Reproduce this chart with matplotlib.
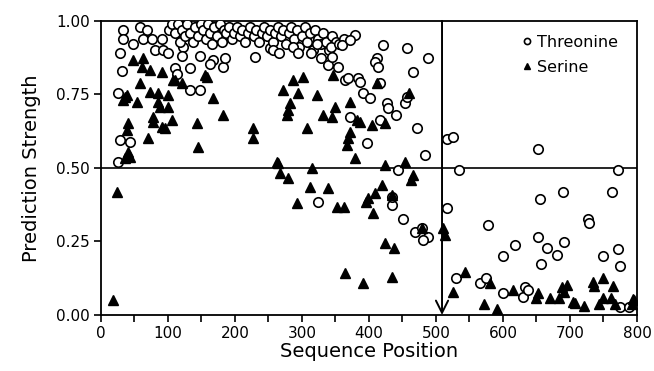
import matplotlib
matplotlib.use('Agg')
from matplotlib import pyplot as plt
from matplotlib.ticker import MultipleLocator

plt.rcParams['font.family'] = ['DejaVu Sans']

# Threonine (open circles)
thr_x = [33, 33, 29, 32, 26, 29, 43, 26, 58, 48, 69, 63, 76, 80, 91, 92, 100, 110, 114, 123,
         121, 133, 133, 148, 148, 167, 163, 182, 185, 230, 252,
         # dense top band
         102, 106, 110, 115, 118, 121, 125, 129, 133, 137, 141, 145, 149, 153, 156, 159, 163,
         166, 169, 173, 177, 180, 183, 187, 191, 195, 199, 203, 207, 211, 215, 219, 223, 228,
         232, 236, 240, 244, 248, 252, 256, 260, 264, 268, 272, 276, 280, 284, 288, 292, 296,
         300, 304, 308, 312, 316, 320, 324, 328, 332, 336, 341, 345, 351,
         257, 266, 286, 294, 314, 322, 343, 355, 363,
         # descending part and right side
         329, 339, 345, 354, 360, 379, 372, 364, 369, 384, 387, 391, 401, 412, 409, 413, 421,
         416, 427, 428, 441, 454, 457, 465, 457, 488, 472, 484, 372, 416, 397, 443, 324, 435,
         435, 451, 469, 479, 488, 481, 516, 516, 525, 534, 652, 771, 655, 690, 762, 727, 728,
         578, 652, 665, 681, 691, 618, 600, 656, 749, 771, 774, 530, 565, 575, 600, 630, 633,
         637, 774, 788]
thr_y = [0.97, 0.94, 0.89, 0.83, 0.755, 0.595, 0.588, 0.52, 0.98, 0.92, 0.97, 0.94, 0.94, 0.90,
         0.94, 0.90, 0.89, 0.84, 0.82, 0.91, 0.88, 0.84, 0.765, 0.765, 0.88, 0.867, 0.855,
         0.845, 0.875, 0.878, 0.908,
         0.97, 0.99, 0.96, 0.99, 0.93, 0.97, 0.95, 0.99, 0.96, 0.93, 0.98, 0.95, 0.99, 0.97,
         0.94, 0.99, 0.96, 0.92, 0.98, 0.95, 0.99, 0.93, 0.97, 0.96, 0.98, 0.94, 0.96, 0.98,
         0.95, 0.97, 0.93, 0.96, 0.98, 0.95, 0.97, 0.93, 0.96, 0.98, 0.95, 0.97, 0.93, 0.96,
         0.98, 0.95, 0.97, 0.92, 0.96, 0.98, 0.94, 0.97, 0.91, 0.95, 0.98, 0.93, 0.96, 0.90,
         0.97, 0.94, 0.92, 0.96, 0.93, 0.90, 0.95, 0.93,
         0.90, 0.89, 0.91, 0.89, 0.89, 0.92, 0.91, 0.92, 0.94,
         0.874, 0.85, 0.878, 0.844, 0.918, 0.952, 0.935, 0.80, 0.806, 0.806, 0.793, 0.755,
         0.738, 0.874, 0.861, 0.844, 0.918, 0.789, 0.721, 0.704, 0.68, 0.721, 0.741, 0.827,
         0.908, 0.874, 0.636, 0.544, 0.673, 0.663, 0.585, 0.493, 0.384, 0.374, 0.40, 0.327,
         0.282, 0.296, 0.265, 0.255, 0.364, 0.60, 0.605, 0.493, 0.565, 0.493, 0.395, 0.418,
         0.418, 0.327, 0.313, 0.306, 0.265, 0.228, 0.204, 0.248, 0.238, 0.201, 0.173, 0.201,
         0.224, 0.167, 0.126, 0.109, 0.126, 0.075, 0.061, 0.095, 0.085, 0.027, 0.027]

# Serine (filled triangles)
ser_x = [48, 63, 61, 73, 91, 58, 73, 85, 85, 88, 100, 100, 107, 121, 36, 33, 54, 77, 77, 91,
         95, 106, 40, 39, 70, 40, 43, 36, 39, 158, 167, 182, 143, 145, 227, 227, 263, 24, 18,
         155, 110,
         287, 301, 272, 294, 322, 282, 279, 278, 347, 350, 331, 345, 307, 372, 412, 382, 387,
         372, 369, 367, 404, 424, 459, 315, 379, 424, 454,
         264, 267, 279, 312, 339, 292, 352, 362, 419, 409, 398, 396, 435, 406, 466, 462, 479,
         424, 438, 364, 391, 434, 510, 513,
         543, 525, 572, 591, 580, 615, 652, 650, 670, 683, 688, 696, 691, 705, 721, 734, 736,
         749, 764, 749, 743, 761, 767, 794, 793, 708, 795]
ser_y = [0.867, 0.874, 0.844, 0.833, 0.827, 0.789, 0.759, 0.755, 0.724, 0.707, 0.748, 0.707,
         0.799, 0.789, 0.741, 0.731, 0.724, 0.673, 0.656, 0.639, 0.636, 0.663, 0.653, 0.629,
         0.602, 0.554, 0.537, 0.534, 0.748, 0.81, 0.738, 0.68, 0.653, 0.571, 0.636, 0.602,
         0.52, 0.418, 0.051, 0.816, 0.80,
         0.799, 0.81, 0.765, 0.755, 0.748, 0.721, 0.697, 0.68, 0.816, 0.707, 0.68, 0.673,
         0.636, 0.724, 0.789, 0.663, 0.656, 0.622, 0.602, 0.578, 0.646, 0.653, 0.755, 0.5,
         0.534, 0.51, 0.52,
         0.517, 0.483, 0.466, 0.435, 0.432, 0.381, 0.367, 0.367, 0.442, 0.415, 0.398, 0.384,
         0.408, 0.347, 0.476, 0.459, 0.296, 0.245, 0.228, 0.143, 0.109, 0.129, 0.296, 0.272,
         0.146, 0.078, 0.037, 0.02, 0.109, 0.085, 0.075, 0.058, 0.058, 0.058, 0.095, 0.102,
         0.078, 0.044, 0.031, 0.112, 0.099, 0.126, 0.099, 0.058, 0.037, 0.058, 0.037, 0.054,
         0.037, 0.041, 0.05]

x_ticks = [0, 100, 200, 300, 400, 500, 600, 700, 800]
y_ticks = [0.00, 0.25, 0.50, 0.75, 1.00]
cut_pos = 509
cut_strength = 0.5

fig = plt.figure(figsize=(6.54, 3.71), dpi=100)
ax = fig.add_axes([0.1544, 0.151, 0.8196, 0.7925])

ax.plot(thr_x, thr_y, 'o', mfc='white', mec='black', mew=1.2, ms=6.8,
        label='Threonine', zorder=3)
ax.plot(ser_x, ser_y, '^', color='black', ms=7.2, label='Serine', zorder=4)

ax.axhline(cut_strength, color='black', lw=1.2, zorder=2)
ax.annotate('', xy=(cut_pos, 0), xytext=(cut_pos, 1.0),
            arrowprops=dict(arrowstyle='->', color='black', lw=1.4,
                            mutation_scale=22, shrinkA=0, shrinkB=0), zorder=2)

ax.set_xlim(0, 800)
ax.set_ylim(0, 1.0)
ax.set_xticks(x_ticks)
ax.set_yticks(y_ticks)
ax.set_yticklabels([f'{v:.2f}' for v in y_ticks])
ax.xaxis.set_minor_locator(MultipleLocator(50))
ax.tick_params(which='both', direction='out', length=5, width=1.2, labelsize=11, pad=3)
for s in ax.spines.values():
    s.set_linewidth(1.3)

ax.set_xlabel('Sequence Position', fontsize=14, labelpad=1)
ax.set_ylabel('Prediction Strength', fontsize=14, labelpad=11)

ax.legend(loc='upper right', bbox_to_anchor=(0.985, 0.99), frameon=False, fontsize=11.5,
          markerscale=0.65, handletextpad=0.15, handlelength=0.9, labelspacing=0.6,
          borderaxespad=0.3)

plt.savefig('out.png', dpi=100)
